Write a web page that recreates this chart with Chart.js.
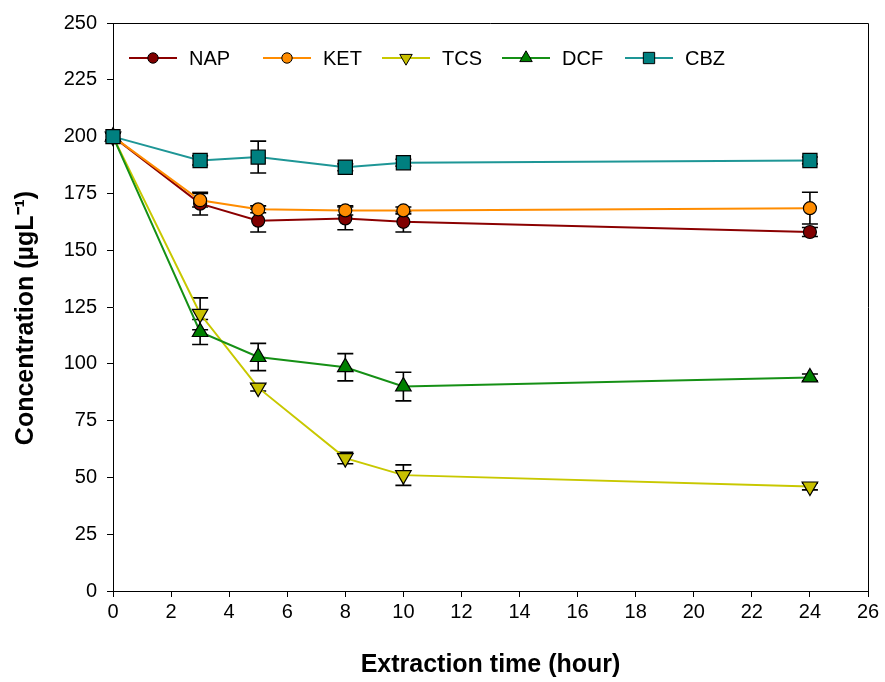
<!DOCTYPE html>
<html>
<head>
<meta charset="utf-8">
<script src="https://cdn.jsdelivr.net/npm/chart.js@4.4.1/dist/chart.umd.min.js"></script>
<style>
  html, body { margin: 0; padding: 0; background: #fff; }
  #wrap { width: 885px; height: 682px; }
</style>
</head>
<body>
<div id="wrap"><canvas id="chart" width="885" height="682"></canvas></div>
<script>
// Extraction time (hour)
const times = [0, 3, 5, 8, 10, 24];

// concentrations (µg/L) and their error bars
const napValues = [200, 170.5, 163, 164, 162.5, 158];
const napErrors = [1.5, 5, 5, 5, 4.5, 2];
const ketValues = [200, 172, 168, 167.5, 167.5, 168.5];
const ketErrors = [1.5, 3, 1.5, 2, 1.5, 7];
const tcsValues = [200, 122, 89.5, 58.5, 51, 46];
const tcsErrors = [1.5, 7, 1.5, 2.5, 4.5, 1.5];
const dcfValues = [200, 114, 103, 98.5, 90, 94];
const dcfErrors = [1.5, 5.5, 6, 6, 6.3, 1.5];
const cbzValues = [200, 189.5, 191, 186.5, 188.5, 189.5];
const cbzErrors = [1.5, 2, 7, 1.5, 1.5, 1.5];

const FONT = "'Liberation Sans', Arial, sans-serif";
const Y_TITLE = "Concentration (\u00b5gL\u207b\u00b9)";

// Serien mit Stil (Reihenfolge wie im Original, CBZ zuletzt gezeichnet)
const series = [
  { name: "NAP", values: napValues, errors: napErrors, line: "#8b0000", fill: "#800000", style: "circle", radius: 6.5, rot: 0, legendX: 129 },
  { name: "KET", values: ketValues, errors: ketErrors, line: "#ff8c00", fill: "#ff8c00", style: "circle", radius: 6.5, rot: 0, legendX: 263 },
  { name: "TCS", values: tcsValues, errors: tcsErrors, line: "#c8c800", fill: "#c8c000", style: "triangle", radius: 9, rot: 180, legendX: 382 },
  { name: "DCF", values: dcfValues, errors: dcfErrors, line: "#159015", fill: "#008000", style: "triangle", radius: 9, rot: 0, legendX: 502 },
  { name: "CBZ", values: cbzValues, errors: cbzErrors, line: "#1e9696", fill: "#008080", style: "rect", radius: 10, rot: 0, legendX: 625 }
];

// Fehlerbalken vor den Punkten zeichnen
const errorBars = {
  id: "errorBars",
  beforeDatasetsDraw(chart) {
    const ctx = chart.ctx;
    const xs = chart.scales.x;
    const ys = chart.scales.y;
    ctx.save();
    ctx.strokeStyle = "#000";
    ctx.lineWidth = 1.6;
    series.forEach(s => {
      s.values.forEach((v, i) => {
        const e = s.errors[i];
        if (!e) return;
        const x = xs.getPixelForValue(times[i]);
        const yTop = ys.getPixelForValue(v + e);
        const yBot = ys.getPixelForValue(v - e);
        ctx.beginPath();
        ctx.moveTo(x, yTop); ctx.lineTo(x, yBot);
        ctx.moveTo(x - 8, yTop); ctx.lineTo(x + 8, yTop);
        ctx.moveTo(x - 8, yBot); ctx.lineTo(x + 8, yBot);
        ctx.stroke();
      });
    });
    ctx.restore();
  }
};

// Rahmen oben und rechts, dazu der y-Achsentitel
const frame = {
  id: "frame",
  afterDraw(chart) {
    const { ctx, chartArea } = chart;
    ctx.save();
    ctx.strokeStyle = "#000";
    ctx.lineWidth = 1;
    ctx.beginPath();
    ctx.moveTo(chartArea.left, chartArea.top + 0.5);
    ctx.lineTo(chartArea.right + 0.5, chartArea.top + 0.5);
    ctx.lineTo(chartArea.right + 0.5, chartArea.bottom);
    ctx.stroke();

    ctx.translate(26, 318);
    ctx.rotate(-Math.PI / 2);
    ctx.fillStyle = "#000";
    ctx.font = "bold 25px " + FONT;
    ctx.textAlign = "center";
    ctx.textBaseline = "middle";
    ctx.fillText(Y_TITLE, 0, 0);
    ctx.restore();
  }
};

// Legende: Linie mit Marker und Text
const lineLegend = {
  id: "lineLegend",
  afterDraw(chart) {
    const ctx = chart.ctx;
    const y = 58;
    ctx.save();
    series.forEach(s => {
      ctx.strokeStyle = s.line;
      ctx.lineWidth = 2;
      ctx.beginPath();
      ctx.moveTo(s.legendX, y);
      ctx.lineTo(s.legendX + 48, y);
      ctx.stroke();
      ctx.fillStyle = s.fill;
      ctx.strokeStyle = "#000";
      ctx.lineWidth = 1;
      Chart.helpers.drawPoint(ctx, { pointStyle: s.style, radius: s.radius * 0.8, rotation: s.rot, borderWidth: 1 }, s.legendX + 24, y);
      ctx.fillStyle = "#000";
      ctx.font = "20px " + FONT;
      ctx.textBaseline = "middle";
      ctx.fillText(s.name, s.legendX + 60, y + 1);
    });
    ctx.restore();
  }
};

new Chart(document.getElementById("chart"), {
  type: "line",
  data: {
    datasets: series.map((s, idx) => ({
      label: s.name,
      data: s.values.map((v, i) => ({ x: times[i], y: v })),
      order: series.length - 1 - idx,
      borderColor: s.line,
      borderWidth: 2,
      backgroundColor: s.fill,
      pointBackgroundColor: s.fill,
      pointBorderColor: "#000",
      pointBorderWidth: 1.2,
      pointStyle: s.style,
      pointRotation: s.rot,
      pointRadius: s.radius,
      tension: 0,
      clip: false
    }))
  },
  options: {
    responsive: false,
    animation: false,
    layout: { padding: { left: 0, top: 23, right: 17, bottom: 0 } },
    plugins: {
      legend: { display: false },
      tooltip: { enabled: false }
    },
    scales: {
      x: {
        type: "linear",
        min: 0,
        max: 26,
        afterFit(scale) { scale.height = 91; },
        ticks: { stepSize: 2, color: "#000", padding: 3, font: { family: FONT, size: 20 }, maxRotation: 0 },
        grid: { drawOnChartArea: false, drawTicks: true, tickLength: 6, tickColor: "#000" },
        border: { color: "#000", width: 1 },
        title: { display: true, text: "Extraction time (hour)", color: "#000", padding: { top: 2, bottom: 2 }, font: { family: FONT, size: 25, weight: "bold" } }
      },
      y: {
        min: 0,
        max: 250,
        afterFit(scale) { scale.width = 113; },
        ticks: { stepSize: 25, color: "#000", padding: 10, font: { family: FONT, size: 20 } },
        grid: { drawOnChartArea: false, drawTicks: true, tickLength: 6, tickColor: "#000" },
        border: { color: "#000", width: 1 }
      }
    }
  },
  plugins: [errorBars, frame, lineLegend]
});
</script>
</body>
</html>
